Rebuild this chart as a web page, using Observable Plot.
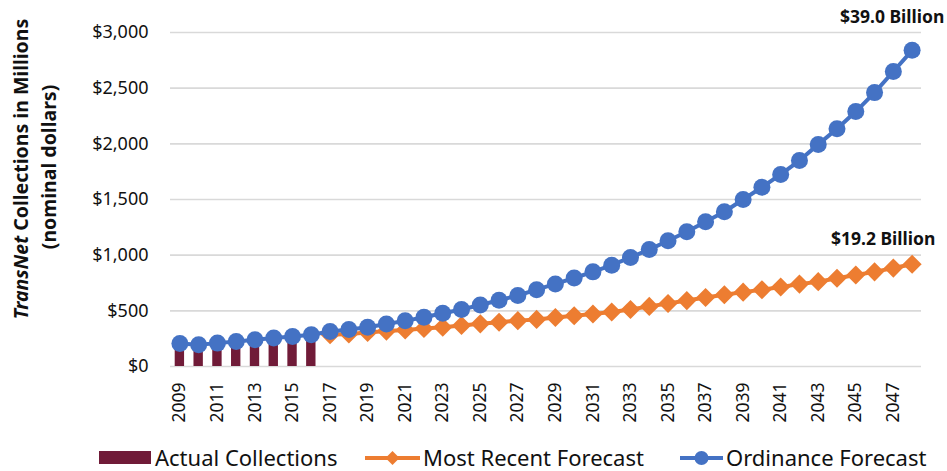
<!DOCTYPE html>
<html>
<head>
<meta charset="utf-8">
<script src="https://cdn.jsdelivr.net/npm/d3@7"></script>
<script src="https://cdn.jsdelivr.net/npm/@observablehq/plot@0.6"></script>
<style>
  html, body { margin: 0; padding: 0; background: #fff; }
  #wrap { position: relative; width: 947px; height: 471px; font-family: "Noto Sans", sans-serif; }
  #legend { position: absolute; left: 0; top: 440px; width: 947px; height: 31px; }
  .lg { position: absolute; font-size: 22px; line-height: 22px; color: #111; white-space: nowrap; }
  .sw { position: absolute; }
</style>
</head>
<body>
<div id="wrap">
  <div id="chart"></div>
  <div id="legend"></div>
</div>
<script>
const years = [2009,2010,2011,2012,2013,2014,2015,2016,2017,2018,2019,2020,2021,2022,2023,2024,
  2025,2026,2027,2028,2029,2030,2031,2032,2033,2034,2035,2036,2037,2038,2039,2040,
  2041,2042,2043,2044,2045,2046,2047,2048];
const xTickLabels = [2009,2011,2013,2015,2017,2019,2021,2023,2025,2027,2029,2031,2033,2035,2037,2039,2041,2043,2045,2047];
const yTicks = [0,500,1000,1500,2000,2500,3000];

const actualYears = [2009,2010,2011,2012,2013,2014,2015,2016];
const actualValues = [207,195,210,224,240,254,268,284];

const ordinanceValues = [207,195,210,225,240,255,270,285,315,332,352,382,410,442,478,512,
  553,595,638,690,742,795,850,910,980,1050,1130,1210,1300,1390,1500,1610,
  1725,1850,1995,2135,2290,2460,2650,2840];

const forecastYears = [2017,2018,2019,2020,2021,2022,2023,2024,2025,2026,2027,2028,2029,2030,2031,2032,
  2033,2034,2035,2036,2037,2038,2039,2040,2041,2042,2043,2044,2045,2046,2047,2048];
const forecastValues = [285,292,305,318,328,342,353,368,383,398,412,423,440,456,472,490,
  512,540,566,592,620,645,668,690,714,740,762,792,822,850,884,918];

const seriesNames = ["Actual Collections", "Most Recent Forecast", "Ordinance Forecast"];
const seriesColors = ["#701B38", "#ED7D31", "#4472C4"];
const endLabels = ["$19.2 Billion", "$39.0 Billion"];

const actual = actualYears.map((y, i) => ({year: y, value: actualValues[i]}));
const ordinance = years.map((y, i) => ({year: y, value: ordinanceValues[i]}));
const forecast = forecastYears.map((y, i) => ({year: y, value: forecastValues[i]}));
const lastForecast = [{...forecast[forecast.length - 1], label: endLabels[0]}];
const lastOrdinance = [{...ordinance[ordinance.length - 1], label: endLabels[1]}];

const chart = Plot.plot({
  width: 947,
  height: 440,
  marginLeft: 170,
  marginRight: 26,
  marginTop: 32,
  marginBottom: 74,
  style: {fontFamily: "Noto Sans, sans-serif", color: "#111", background: "#fff"},
  x: {type: "band", domain: years, padding: 0, axis: null},
  y: {domain: [0, 3000], axis: null},
  marks: [
    Plot.ruleY(yTicks, {stroke: "#d9d9d9", strokeWidth: 1.6}),
    Plot.axisY({ticks: yTicks, tickSize: 0, tickPadding: 22, fontSize: 18,
      tickFormat: d => "$" + d3.format(",")(d), label: null}),
    Plot.axisX({ticks: xTickLabels, tickSize: 0, tickPadding: 16, tickRotate: -90, fontSize: 17.5,
      tickFormat: d => String(d), label: null}),
    Plot.barY(actual, {x: "year", y: "value", fill: seriesColors[0], insetLeft: 4.7, insetRight: 4.7}),
    Plot.line(forecast, {x: "year", y: "value", stroke: seriesColors[1], strokeWidth: 4}),
    Plot.dot(forecast, {x: "year", y: "value", symbol: "diamond2", r: 8.6, fill: seriesColors[1]}),
    Plot.line(ordinance, {x: "year", y: "value", stroke: seriesColors[2], strokeWidth: 4}),
    Plot.dot(ordinance, {x: "year", y: "value", r: 8.5, fill: seriesColors[2]}),
    Plot.text(lastForecast, {x: "year", y: "value", text: "label", dx: -29, dy: -25,
      fontSize: 17.5, fontWeight: "bold", fill: "#111"}),
    Plot.text(lastOrdinance, {x: "year", y: "value", text: "label", dx: -20, dy: -33,
      fontSize: 17.5, fontWeight: "bold", fill: "#111"})
  ]
});

// y-axis title (two lines, "TransNet" in italics)
const svg = d3.select(chart);
const t1 = svg.append("text")
  .attr("transform", "translate(28,169) rotate(-90)")
  .attr("text-anchor", "middle")
  .attr("font-size", 19.5).attr("font-weight", "bold").attr("fill", "#111")
  .attr("font-family", "Noto Sans, sans-serif");
t1.append("tspan").attr("font-style", "italic").text("TransNet");
t1.append("tspan").text(" Collections in Millions");
svg.append("text")
  .attr("transform", "translate(56,167) rotate(-90)")
  .attr("text-anchor", "middle")
  .attr("font-size", 19.5).attr("font-weight", "bold").attr("fill", "#111")
  .attr("font-family", "Noto Sans, sans-serif")
  .text("(nominal dollars)");

document.getElementById("chart").appendChild(chart);

// legend
const legend = document.getElementById("legend");
const swatchSvg = (w, kind, color) => {
  const ns = "http://www.w3.org/2000/svg";
  const s = document.createElementNS(ns, "svg");
  s.setAttribute("width", w); s.setAttribute("height", 20);
  if (kind === "bar") {
    const r = document.createElementNS(ns, "rect");
    r.setAttribute("x", 0); r.setAttribute("y", 3); r.setAttribute("width", w); r.setAttribute("height", 13);
    r.setAttribute("fill", color); s.appendChild(r);
  } else {
    const l = document.createElementNS(ns, "line");
    l.setAttribute("x1", 0); l.setAttribute("x2", w); l.setAttribute("y1", 10); l.setAttribute("y2", 10);
    l.setAttribute("stroke", color); l.setAttribute("stroke-width", 4); s.appendChild(l);
    if (kind === "diamond") {
      const p = document.createElementNS(ns, "path");
      const c = w / 2;
      p.setAttribute("d", `M${c},3L${c+7},10L${c},17L${c-7},10Z`);
      p.setAttribute("fill", color); s.appendChild(p);
    } else {
      const c = document.createElementNS(ns, "circle");
      c.setAttribute("cx", w / 2); c.setAttribute("cy", 10); c.setAttribute("r", 7);
      c.setAttribute("fill", color); s.appendChild(c);
    }
  }
  return s;
};
const items = [
  {sx: 99, sw: 52, kind: "bar", tx: 155},
  {sx: 365, sw: 55, kind: "diamond", tx: 423},
  {sx: 680, sw: 43, kind: "circle", tx: 726}
];
items.forEach((it, i) => {
  const s = swatchSvg(it.sw, it.kind, seriesColors[i]);
  s.classList.add("sw");
  s.style.left = it.sx + "px"; s.style.top = "8px";
  legend.appendChild(s);
  const t = document.createElement("div");
  t.className = "lg";
  t.style.left = it.tx + "px"; t.style.top = "6px";
  t.textContent = seriesNames[i];
  legend.appendChild(t);
});
</script>
</body>
</html>
